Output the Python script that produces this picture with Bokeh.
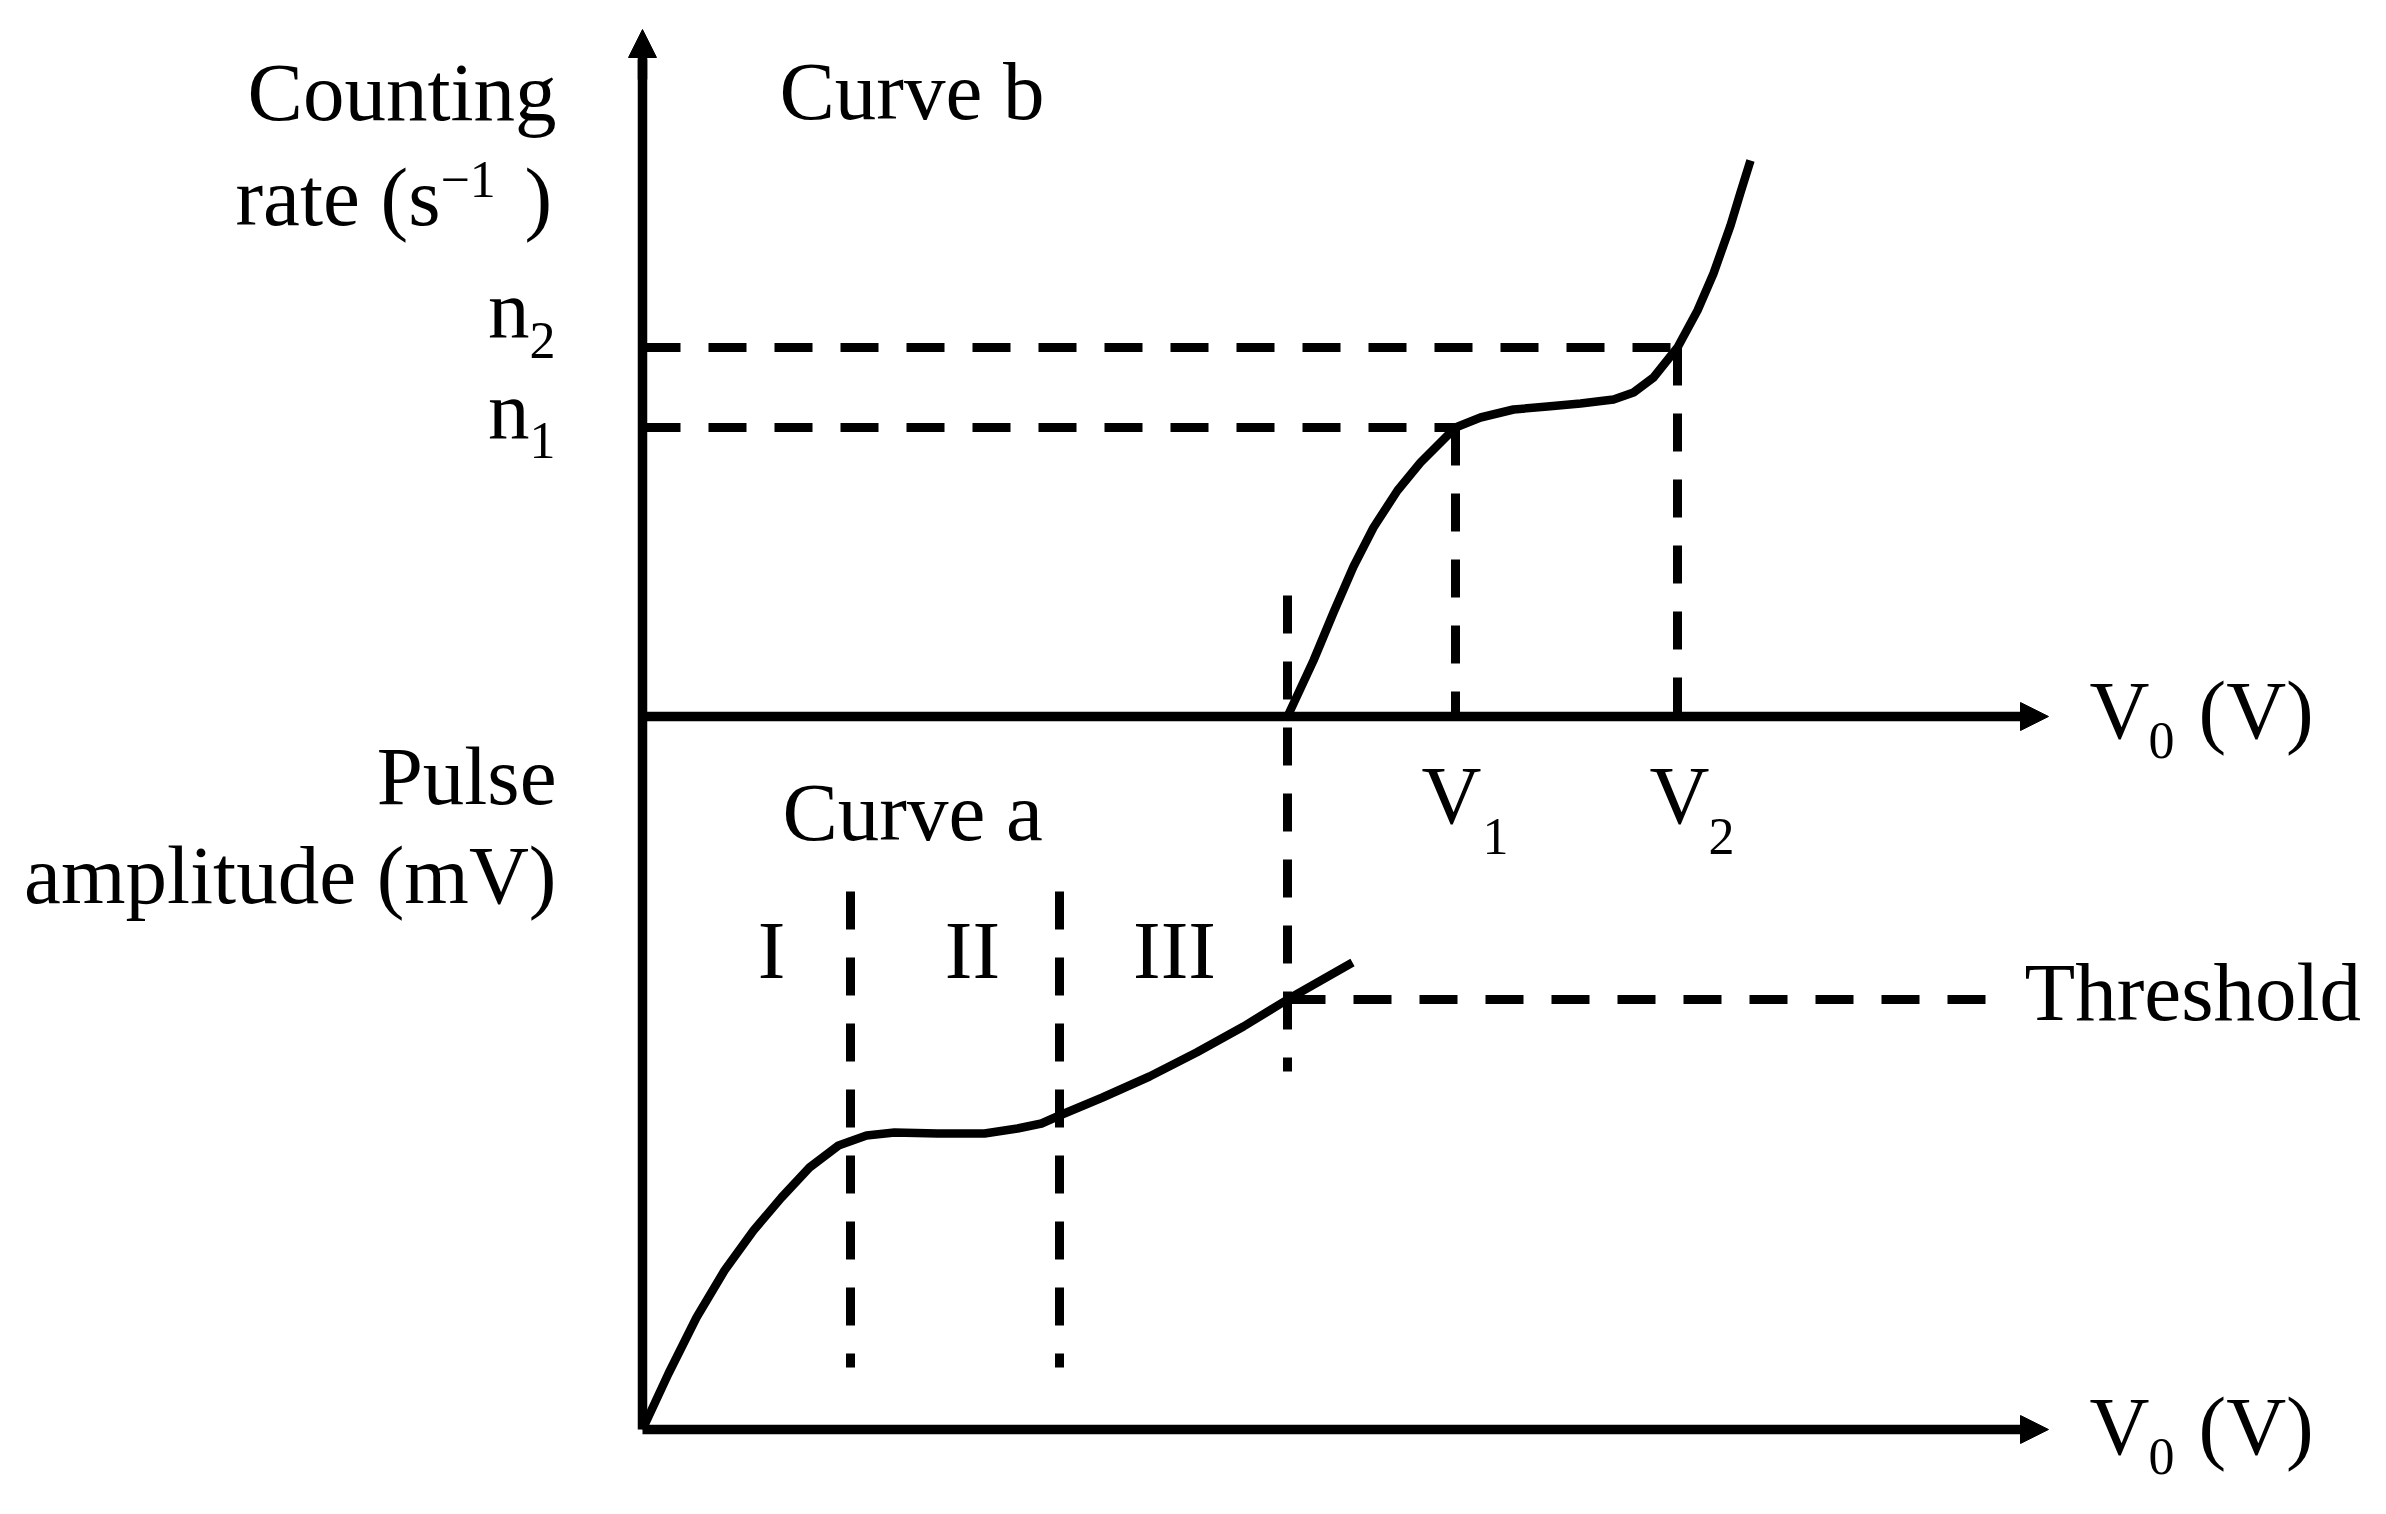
from bokeh.plotting import figure
from bokeh.models import Range1d, Arrow, NormalHead
from bokeh.embed import file_html
from bokeh.resources import INLINE
from bokeh.core.properties import value

# ---------------- data (arbitrary schematic units) ----------------
V_TH = 6.45          # threshold voltage (curve b starts counting)
V1 = 8.13            # start of plateau
V2 = 10.35           # end of plateau
N1 = 2.89            # counting rate at V1
N2 = 3.69            # counting rate at V2
THRESHOLD = 4.30     # discriminator threshold (pulse amplitude)
REGION_BOUNDS = [2.08, 4.17]   # boundaries of regions I / II / III
REGION_NAMES = ["I", "II", "III"]
REGION_LABEL_V = [1.29, 3.30, 5.32]

V_AXIS_END = 14.06     # length of the V0 axes
COUNT_AXIS_END = 6.87  # top of the vertical axis (counting-rate units)

# Curve b : counting rate vs V0
curve_b_v = [6.45, 6.71, 6.91, 7.11, 7.31, 7.55, 7.78, 8.13, 8.38, 8.71, 9.05,
             9.38, 9.71, 9.91, 10.11, 10.35, 10.55, 10.71, 10.88, 10.98, 11.08]
curve_b_n = [0.00, 0.56, 1.04, 1.50, 1.89, 2.26, 2.54, 2.89, 2.99, 3.07, 3.10,
             3.13, 3.17, 3.24, 3.39, 3.69, 4.06, 4.43, 4.91, 5.24, 5.56]

# Curve a : pulse amplitude vs V0
curve_a_v = [0.00, 0.26, 0.54, 0.82, 1.11, 1.39, 1.67, 1.96, 2.24, 2.52, 2.95,
             3.42, 3.75, 3.99, 4.17, 4.60, 5.07, 5.54, 6.01, 6.45, 7.10]
curve_a_amp = [0.00, 0.56, 1.12, 1.59, 1.99, 2.32, 2.62, 2.84, 2.94, 2.97, 2.96,
               2.96, 3.01, 3.06, 3.14, 3.32, 3.53, 3.77, 4.03, 4.30, 4.67]

# ---------------- figure ----------------
W, H = 2370, 1498
p = figure(width=W, height=H, output_backend="svg", toolbar_location=None,
           x_range=Range1d(-6.42, 17.28), y_range=Range1d(-7.82, 7.16),
           x_axis_type=None, y_axis_type=None, min_border=0)
p.extra_y_ranges = {"amp": Range1d(-0.69, 14.29)}
p.outline_line_color = None
p.background_fill_color = "white"
p.border_fill_color = "white"
p.xgrid.visible = False
p.ygrid.visible = False

BLACK = "black"
DASH = "38 28"
DASH_W = 9
CURVE_W = 8.5
AXIS_W = 9.5

# ---- axes as arrows ----
def axis_arrow(x0, y0, x1, y1, rng):
    p.add_layout(Arrow(end=NormalHead(size=28, fill_color=BLACK, line_color=BLACK, line_width=1),
                       x_start=x0, y_start=y0, x_end=x1, y_end=y1,
                       line_width=AXIS_W, line_color=BLACK, y_range_name=rng))

axis_arrow(0, 0, V_AXIS_END, 0, "default")        # upper V0 axis
axis_arrow(0, 0, V_AXIS_END, 0, "amp")            # lower V0 axis
p.line([0, 0], [-7.13, COUNT_AXIS_END - 0.3], line_width=AXIS_W, color=BLACK)
axis_arrow(0, COUNT_AXIS_END - 0.5, 0, COUNT_AXIS_END, "default")  # vertical axis tip

# ---- dashed guide lines ----
def dashed(xs, ys, rng="default"):
    p.line(xs, ys, line_width=DASH_W, color=BLACK, line_dash=DASH,
           line_cap="butt", y_range_name=rng)

dashed([0, V2], [N2, N2])
dashed([0, V1], [N1, N1])
dashed([V1, V1], [N1, 0])
dashed([V2, V2], [N2, 0])
dashed([V_TH, V_TH], [1.21, -3.55])                   # threshold voltage line
dashed([V_TH, 13.49], [THRESHOLD, THRESHOLD], "amp")  # threshold level
for b in REGION_BOUNDS:
    dashed([b, b], [5.38, 0.62], "amp")

# ---- curves ----
p.line(curve_b_v, curve_b_n, line_width=CURVE_W, color=BLACK, line_join="round")
p.line(curve_a_v, curve_a_amp, line_width=CURVE_W, color=BLACK, line_join="round",
       y_range_name="amp")

# ---- texts ----
FONT = "Liberation Serif"
MAIN = 83
SUB = 52
BASE_FIX = 0.4   # baseline correction, fraction of the font size

def label(t, x, y, rng="default", align="left", size=MAIN):
    p.text(x=[x], y=[y + BASE_FIX * size / 100.0], text=[t], text_font=value(FONT),
           text_font_size=value(f"{size}px"), text_align=align,
           text_baseline="alphabetic", text_color=BLACK, y_range_name=rng)

# y-axis titles
label("Counting", -0.86, 5.91, align="right")
label("rate (s", -2.02, 4.86, align="right")
label("\u22121", -2.02, 5.16, size=SUB)
label(")", -1.18, 4.86)
label("Pulse", -0.86, 6.20, "amp", align="right")
label("amplitude (mV)", -0.86, 5.21, "amp", align="right")

# curve names
label("Curve b", 1.37, 5.92)
label("Curve a", 1.40, 5.84, "amp")

# n1, n2
label("n", -1.13, N2 + 0.05, align="right")
label("2", -1.13, N2 - 0.14, size=SUB)
label("n", -1.13, N1 - 0.16, align="right")
label("1", -1.13, N1 - 0.34, size=SUB)

# V1, V2
label("V", V1 - 0.34, -1.12)
label("1", V1 + 0.27, -1.41, size=SUB)
label("V", V2 - 0.28, -1.12)
label("2", V2 + 0.31, -1.41, size=SUB)

# axis names V0 (V)
for rng, yb in (("default", -0.27), ("amp", -0.30)):
    label("V", 14.47, yb, rng)
    label("0", 15.06, yb - 0.18, rng, size=SUB)
    label("(V)", 15.56, yb, rng)

# regions and threshold
for name, xv in zip(REGION_NAMES, REGION_LABEL_V):
    label(name, xv, 4.46, "amp", align="center")
label("Threshold", 13.82, 4.04, "amp")

open("out.html", "w").write(file_html(p, INLINE))
